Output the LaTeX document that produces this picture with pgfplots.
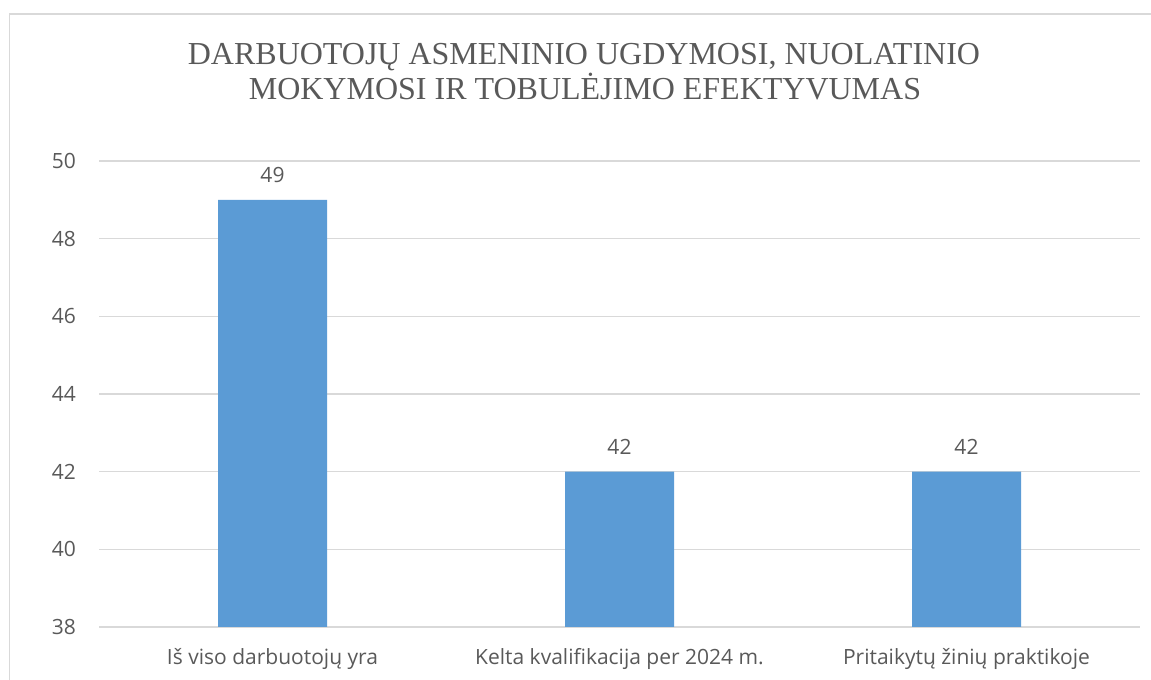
\documentclass[border=0pt]{standalone}
\usepackage{fontspec}
\setmainfont{Open Sans}
\newfontfamily\titlefont{Liberation Serif}
\usepackage{pgfplots}
\pgfplotsset{compat=1.18}
\definecolor{txt}{HTML}{595959}
\definecolor{barblue}{HTML}{5B9BD5}
\definecolor{gridc}{HTML}{D9D9D9}
\begin{document}
\begin{tikzpicture}
\useasboundingbox (0,0) rectangle (1151bp,680bp);
\draw[gridc, line width=1.5bp] (9.5bp,0) -- (9.5bp,666bp) -- (1151bp,666bp);
\node[anchor=base, font=\titlefont\fontsize{32bp}{35bp}\selectfont, text=txt, inner sep=0pt] at (584bp,615bp) {DARBUOTOJŲ ASMENINIO UGDYMOSI, NUOLATINIO};
\node[anchor=base, font=\titlefont\fontsize{32bp}{35bp}\selectfont, text=txt, inner sep=0pt] at (585bp,580bp) {MOKYMOSI IR TOBULĖJIMO EFEKTYVUMAS};
\begin{axis}[
  at={(99bp,53bp)}, anchor=south west,
  scale only axis, width=1041bp, height=466bp,
  xmin=-0.5, xmax=2.5, ymin=38, ymax=50,
  ytick={38,40,...,50},
  xtick={0,1,2},
  xticklabels={Iš viso darbuotojų yra, Kelta kvalifikacija per 2024 m., Pritaikytų žinių praktikoje},
  axis line style={draw=none},
  major tick length=0pt,
  ymajorgrids,
  grid style={gridc, line width=1.3bp},
  /pgf/number format/assume math mode=true,
  ticklabel style={font=\fontsize{21bp}{24bp}\selectfont, text=txt, inner sep=0pt},
  yticklabel style={anchor=east, xshift=-23bp},
  xticklabel style={anchor=base, yshift=-38bp},
  ybar, bar width=109bp,
  nodes near coords,
  every node near coord/.append style={font=\fontsize{21bp}{24bp}\selectfont, text=txt, anchor=base, yshift=17bp, inner sep=0pt},
]
\addplot[fill=barblue, draw=none] coordinates {(0,49) (1,42) (2,42)};
\end{axis}
\end{tikzpicture}
\end{document}
